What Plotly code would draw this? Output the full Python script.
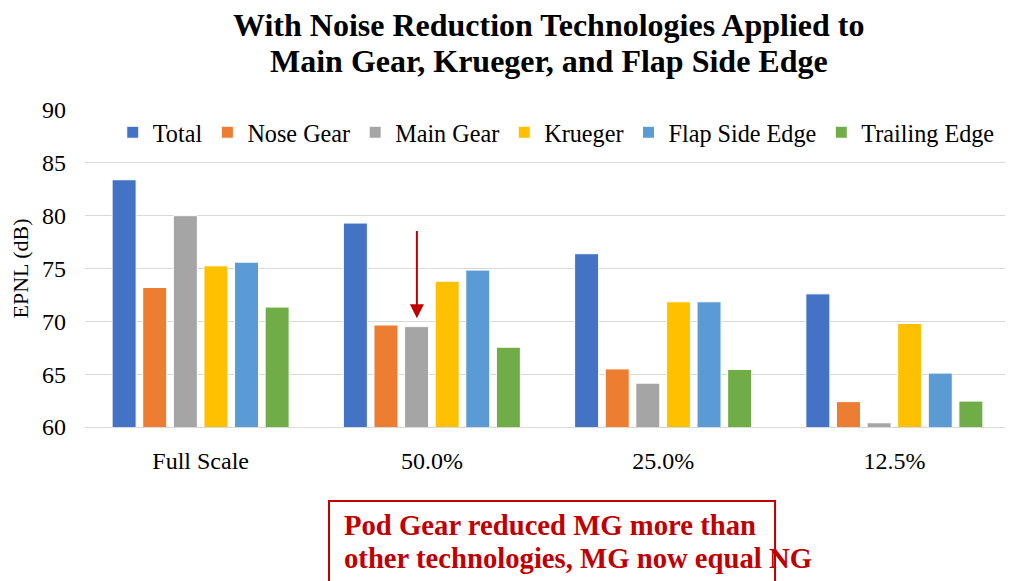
import plotly.graph_objects as go

categories = ["Full Scale", "50.0%", "25.0%", "12.5%"]
series_names = ["Total", "Nose Gear", "Main Gear", "Krueger", "Flap Side Edge", "Trailing Edge"]
total = [83.4, 79.3, 76.4, 72.6]
nose_gear = [73.2, 69.65, 65.5, 62.4]
main_gear = [80.0, 69.5, 64.15, 60.4]
krueger = [75.25, 73.8, 71.85, 69.8]
flap_side_edge = [75.6, 74.85, 71.85, 65.1]
trailing_edge = [71.35, 67.55, 65.45, 62.45]
colors = ["#4472C4", "#ED7D31", "#A5A5A5", "#FFC000", "#5B9BD5", "#70AD47"]

title_lines = ["With Noise Reduction Technologies Applied to", "Main Gear, Krueger, and Flap Side Edge"]
note_lines = ["Pod Gear reduced MG more than", "other technologies, MG now equal NG"]

FONT = "Liberation Serif, Times New Roman, serif"
RED = "#C00000"

fig = go.Figure()
for name, vals, col in zip(series_names,
                           [total, nose_gear, main_gear, krueger, flap_side_edge, trailing_edge],
                           colors):
    fig.add_trace(go.Bar(x=categories, y=vals, name=name,
                         marker=dict(color=col, line=dict(color="#ffffff", width=1))))

# page body has an 8px default margin, so the figure is sized/margined to compensate
fig.update_layout(
    width=1005, height=573,
    margin=dict(l=77, r=3, t=102, b=154, autoexpand=False),
    paper_bgcolor="white", plot_bgcolor="white",
    font=dict(family=FONT, size=24, color="#000000"),
    barmode="group", bargap=0.206, bargroupgap=0.216,
    legend=dict(orientation="h", x=0.03, xanchor="left", y=0.929, yanchor="middle",
                bgcolor="rgba(255,255,255,0)", font=dict(size=24.2), traceorder="normal",
                itemclick=False),
    showlegend=True,
)
fig.update_yaxes(range=[60, 90], dtick=5, showgrid=True, gridcolor="#d9d9d9", gridwidth=1,
                 zeroline=False, showline=False, ticks="", ticklabelstandoff=18, automargin=False,
                 title=dict(text="EPNL (dB)", standoff=8, font=dict(size=22)))
fig.update_xaxes(showline=True, linecolor="#d9d9d9", linewidth=1, ticks="",
                 ticklabelstandoff=12, automargin=False)

# title (two centred bold lines)
for line, yc in zip(title_lines, [1.268, 1.155]):
    fig.add_annotation(x=0.5016, y=yc, xref="paper", yref="paper", xanchor="center", yanchor="middle",
                       text=line, showarrow=False,
                       font=dict(family=FONT, size=32, color="#000000", weight="bold"))

# arrow pointing at Main Gear bar in 50.0% group
tip = main_gear[1] + 0.8
fig.add_annotation(x=categories[1], y=tip, ax=categories[1], ay=tip + 8.4,
                   xref="x", yref="y", axref="x", ayref="y", xshift=-15,
                   text="", showarrow=True, arrowhead=2, arrowsize=1.4, arrowwidth=2,
                   arrowcolor=RED)

# red text box
fig.add_shape(type="rect", xref="paper", yref="paper", x0=0.2638, x1=0.746,
              y0=-0.7, y1=-0.2334, line=dict(color=RED, width=2), fillcolor="rgba(0,0,0,0)")
for line, yc in zip(note_lines, [-0.309, -0.413]):
    fig.add_annotation(x=0.2778, y=yc, xref="paper", yref="paper", xanchor="left", yanchor="middle",
                       text=line, showarrow=False,
                       font=dict(family=FONT, size=28.7, color=RED, weight="bold"))

fig.write_html("out.html")
